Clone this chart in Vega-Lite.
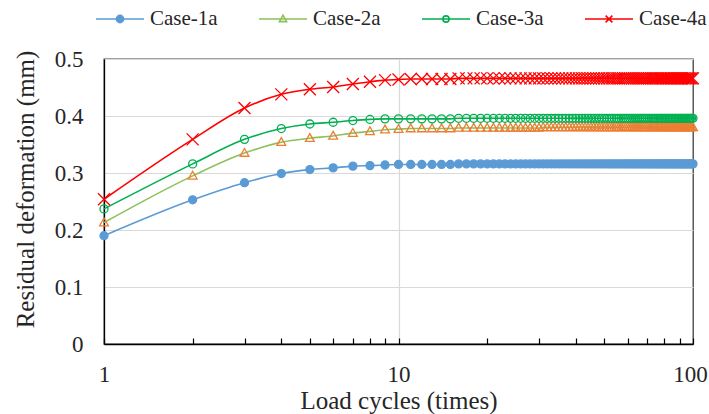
{
  "$schema": "https://vega.github.io/schema/vega-lite/v6.json",
  "width": 589,
  "height": 285,
  "autosize": {"type": "none"},
  "padding": {"left": 104, "top": 59, "right": 16, "bottom": 70},
  "background": "white",
  "config": {
    "font": "Liberation Serif",
    "view": {"stroke": "#404040", "strokeWidth": 1.3},
    "axis": {
      "labelFont": "Liberation Serif",
      "titleFont": "Liberation Serif",
      "labelFontSize": 23,
      "titleFontSize": 25,
      "labelColor": "#262626",
      "titleColor": "#262626",
      "titleFontWeight": "normal",
      "domainColor": "#000000",
      "domainWidth": 1.3,
      "gridColor": "#d9d9d9",
      "gridWidth": 1.2
    }
  },
  "data": {
    "values": [
      {"n": 1, "Case-1a": 0.190, "Case-2a": 0.213, "Case-3a": 0.237, "Case-4a": 0.254},
      {"n": 2, "Case-1a": 0.253, "Case-2a": 0.295, "Case-3a": 0.316, "Case-4a": 0.359},
      {"n": 3, "Case-1a": 0.283, "Case-2a": 0.335, "Case-3a": 0.359, "Case-4a": 0.414},
      {"n": 4, "Case-1a": 0.299, "Case-2a": 0.354, "Case-3a": 0.378, "Case-4a": 0.438},
      {"n": 5, "Case-1a": 0.306, "Case-2a": 0.361, "Case-3a": 0.386, "Case-4a": 0.447},
      {"n": 6, "Case-1a": 0.309, "Case-2a": 0.365, "Case-3a": 0.389, "Case-4a": 0.451},
      {"n": 7, "Case-1a": 0.312, "Case-2a": 0.370, "Case-3a": 0.392, "Case-4a": 0.456},
      {"n": 8, "Case-1a": 0.313, "Case-2a": 0.373, "Case-3a": 0.394, "Case-4a": 0.460},
      {"n": 9, "Case-1a": 0.314, "Case-2a": 0.376, "Case-3a": 0.395, "Case-4a": 0.463},
      {"n": 10, "Case-1a": 0.315, "Case-2a": 0.377, "Case-3a": 0.395, "Case-4a": 0.464},
      {"n": 11, "Case-1a": 0.315, "Case-2a": 0.378, "Case-3a": 0.395, "Case-4a": 0.465},
      {"n": 12, "Case-1a": 0.315, "Case-2a": 0.378, "Case-3a": 0.395, "Case-4a": 0.465},
      {"n": 13, "Case-1a": 0.315, "Case-2a": 0.378, "Case-3a": 0.395, "Case-4a": 0.465},
      {"n": 14, "Case-1a": 0.315, "Case-2a": 0.378, "Case-3a": 0.395, "Case-4a": 0.465},
      {"n": 15, "Case-1a": 0.315, "Case-2a": 0.378, "Case-3a": 0.395, "Case-4a": 0.465},
      {"n": 16, "Case-1a": 0.316, "Case-2a": 0.379, "Case-3a": 0.396, "Case-4a": 0.466},
      {"n": 17, "Case-1a": 0.316, "Case-2a": 0.379, "Case-3a": 0.396, "Case-4a": 0.466},
      {"n": 18, "Case-1a": 0.316, "Case-2a": 0.379, "Case-3a": 0.396, "Case-4a": 0.466},
      {"n": 19, "Case-1a": 0.316, "Case-2a": 0.379, "Case-3a": 0.396, "Case-4a": 0.466},
      {"n": 20, "Case-1a": 0.316, "Case-2a": 0.379, "Case-3a": 0.396, "Case-4a": 0.466},
      {"n": 21, "Case-1a": 0.316, "Case-2a": 0.379, "Case-3a": 0.396, "Case-4a": 0.466},
      {"n": 22, "Case-1a": 0.316, "Case-2a": 0.379, "Case-3a": 0.396, "Case-4a": 0.466},
      {"n": 23, "Case-1a": 0.316, "Case-2a": 0.379, "Case-3a": 0.396, "Case-4a": 0.466},
      {"n": 24, "Case-1a": 0.316, "Case-2a": 0.379, "Case-3a": 0.396, "Case-4a": 0.466},
      {"n": 25, "Case-1a": 0.316, "Case-2a": 0.379, "Case-3a": 0.396, "Case-4a": 0.466},
      {"n": 26, "Case-1a": 0.316, "Case-2a": 0.379, "Case-3a": 0.396, "Case-4a": 0.466},
      {"n": 27, "Case-1a": 0.316, "Case-2a": 0.379, "Case-3a": 0.396, "Case-4a": 0.466},
      {"n": 28, "Case-1a": 0.316, "Case-2a": 0.379, "Case-3a": 0.396, "Case-4a": 0.466},
      {"n": 29, "Case-1a": 0.316, "Case-2a": 0.379, "Case-3a": 0.396, "Case-4a": 0.466},
      {"n": 30, "Case-1a": 0.316, "Case-2a": 0.379, "Case-3a": 0.396, "Case-4a": 0.466},
      {"n": 31, "Case-1a": 0.316, "Case-2a": 0.380, "Case-3a": 0.396, "Case-4a": 0.466},
      {"n": 32, "Case-1a": 0.316, "Case-2a": 0.380, "Case-3a": 0.396, "Case-4a": 0.466},
      {"n": 33, "Case-1a": 0.316, "Case-2a": 0.380, "Case-3a": 0.396, "Case-4a": 0.466},
      {"n": 34, "Case-1a": 0.316, "Case-2a": 0.380, "Case-3a": 0.396, "Case-4a": 0.466},
      {"n": 35, "Case-1a": 0.316, "Case-2a": 0.380, "Case-3a": 0.396, "Case-4a": 0.466},
      {"n": 36, "Case-1a": 0.316, "Case-2a": 0.380, "Case-3a": 0.396, "Case-4a": 0.466},
      {"n": 37, "Case-1a": 0.316, "Case-2a": 0.380, "Case-3a": 0.396, "Case-4a": 0.466},
      {"n": 38, "Case-1a": 0.316, "Case-2a": 0.380, "Case-3a": 0.396, "Case-4a": 0.466},
      {"n": 39, "Case-1a": 0.316, "Case-2a": 0.380, "Case-3a": 0.396, "Case-4a": 0.466},
      {"n": 40, "Case-1a": 0.316, "Case-2a": 0.380, "Case-3a": 0.396, "Case-4a": 0.466},
      {"n": 41, "Case-1a": 0.316, "Case-2a": 0.380, "Case-3a": 0.396, "Case-4a": 0.466},
      {"n": 42, "Case-1a": 0.316, "Case-2a": 0.380, "Case-3a": 0.396, "Case-4a": 0.466},
      {"n": 43, "Case-1a": 0.316, "Case-2a": 0.380, "Case-3a": 0.396, "Case-4a": 0.466},
      {"n": 44, "Case-1a": 0.316, "Case-2a": 0.380, "Case-3a": 0.396, "Case-4a": 0.466},
      {"n": 45, "Case-1a": 0.316, "Case-2a": 0.380, "Case-3a": 0.396, "Case-4a": 0.466},
      {"n": 46, "Case-1a": 0.316, "Case-2a": 0.380, "Case-3a": 0.396, "Case-4a": 0.466},
      {"n": 47, "Case-1a": 0.316, "Case-2a": 0.380, "Case-3a": 0.396, "Case-4a": 0.466},
      {"n": 48, "Case-1a": 0.316, "Case-2a": 0.380, "Case-3a": 0.396, "Case-4a": 0.466},
      {"n": 49, "Case-1a": 0.316, "Case-2a": 0.380, "Case-3a": 0.396, "Case-4a": 0.466},
      {"n": 50, "Case-1a": 0.316, "Case-2a": 0.380, "Case-3a": 0.396, "Case-4a": 0.466},
      {"n": 51, "Case-1a": 0.316, "Case-2a": 0.380, "Case-3a": 0.396, "Case-4a": 0.466},
      {"n": 52, "Case-1a": 0.316, "Case-2a": 0.380, "Case-3a": 0.396, "Case-4a": 0.466},
      {"n": 53, "Case-1a": 0.316, "Case-2a": 0.380, "Case-3a": 0.396, "Case-4a": 0.466},
      {"n": 54, "Case-1a": 0.316, "Case-2a": 0.380, "Case-3a": 0.396, "Case-4a": 0.466},
      {"n": 55, "Case-1a": 0.316, "Case-2a": 0.380, "Case-3a": 0.396, "Case-4a": 0.466},
      {"n": 56, "Case-1a": 0.316, "Case-2a": 0.380, "Case-3a": 0.396, "Case-4a": 0.466},
      {"n": 57, "Case-1a": 0.316, "Case-2a": 0.380, "Case-3a": 0.396, "Case-4a": 0.466},
      {"n": 58, "Case-1a": 0.316, "Case-2a": 0.380, "Case-3a": 0.396, "Case-4a": 0.466},
      {"n": 59, "Case-1a": 0.316, "Case-2a": 0.380, "Case-3a": 0.396, "Case-4a": 0.466},
      {"n": 60, "Case-1a": 0.316, "Case-2a": 0.380, "Case-3a": 0.396, "Case-4a": 0.466},
      {"n": 61, "Case-1a": 0.316, "Case-2a": 0.380, "Case-3a": 0.396, "Case-4a": 0.466},
      {"n": 62, "Case-1a": 0.316, "Case-2a": 0.380, "Case-3a": 0.396, "Case-4a": 0.466},
      {"n": 63, "Case-1a": 0.316, "Case-2a": 0.380, "Case-3a": 0.396, "Case-4a": 0.466},
      {"n": 64, "Case-1a": 0.316, "Case-2a": 0.380, "Case-3a": 0.396, "Case-4a": 0.466},
      {"n": 65, "Case-1a": 0.316, "Case-2a": 0.380, "Case-3a": 0.396, "Case-4a": 0.466},
      {"n": 66, "Case-1a": 0.316, "Case-2a": 0.380, "Case-3a": 0.396, "Case-4a": 0.466},
      {"n": 67, "Case-1a": 0.316, "Case-2a": 0.380, "Case-3a": 0.396, "Case-4a": 0.466},
      {"n": 68, "Case-1a": 0.316, "Case-2a": 0.380, "Case-3a": 0.396, "Case-4a": 0.466},
      {"n": 69, "Case-1a": 0.316, "Case-2a": 0.380, "Case-3a": 0.396, "Case-4a": 0.466},
      {"n": 70, "Case-1a": 0.316, "Case-2a": 0.380, "Case-3a": 0.396, "Case-4a": 0.466},
      {"n": 71, "Case-1a": 0.316, "Case-2a": 0.380, "Case-3a": 0.396, "Case-4a": 0.466},
      {"n": 72, "Case-1a": 0.316, "Case-2a": 0.380, "Case-3a": 0.396, "Case-4a": 0.466},
      {"n": 73, "Case-1a": 0.316, "Case-2a": 0.380, "Case-3a": 0.396, "Case-4a": 0.466},
      {"n": 74, "Case-1a": 0.316, "Case-2a": 0.380, "Case-3a": 0.396, "Case-4a": 0.466},
      {"n": 75, "Case-1a": 0.316, "Case-2a": 0.380, "Case-3a": 0.396, "Case-4a": 0.466},
      {"n": 76, "Case-1a": 0.316, "Case-2a": 0.380, "Case-3a": 0.396, "Case-4a": 0.466},
      {"n": 77, "Case-1a": 0.316, "Case-2a": 0.380, "Case-3a": 0.396, "Case-4a": 0.466},
      {"n": 78, "Case-1a": 0.316, "Case-2a": 0.380, "Case-3a": 0.396, "Case-4a": 0.466},
      {"n": 79, "Case-1a": 0.316, "Case-2a": 0.380, "Case-3a": 0.396, "Case-4a": 0.466},
      {"n": 80, "Case-1a": 0.316, "Case-2a": 0.380, "Case-3a": 0.396, "Case-4a": 0.466},
      {"n": 81, "Case-1a": 0.316, "Case-2a": 0.380, "Case-3a": 0.396, "Case-4a": 0.466},
      {"n": 82, "Case-1a": 0.316, "Case-2a": 0.380, "Case-3a": 0.396, "Case-4a": 0.466},
      {"n": 83, "Case-1a": 0.316, "Case-2a": 0.380, "Case-3a": 0.396, "Case-4a": 0.466},
      {"n": 84, "Case-1a": 0.316, "Case-2a": 0.380, "Case-3a": 0.396, "Case-4a": 0.466},
      {"n": 85, "Case-1a": 0.316, "Case-2a": 0.380, "Case-3a": 0.396, "Case-4a": 0.466},
      {"n": 86, "Case-1a": 0.316, "Case-2a": 0.380, "Case-3a": 0.396, "Case-4a": 0.466},
      {"n": 87, "Case-1a": 0.316, "Case-2a": 0.380, "Case-3a": 0.396, "Case-4a": 0.466},
      {"n": 88, "Case-1a": 0.316, "Case-2a": 0.380, "Case-3a": 0.396, "Case-4a": 0.466},
      {"n": 89, "Case-1a": 0.316, "Case-2a": 0.380, "Case-3a": 0.396, "Case-4a": 0.466},
      {"n": 90, "Case-1a": 0.316, "Case-2a": 0.380, "Case-3a": 0.396, "Case-4a": 0.466},
      {"n": 91, "Case-1a": 0.316, "Case-2a": 0.380, "Case-3a": 0.396, "Case-4a": 0.466},
      {"n": 92, "Case-1a": 0.316, "Case-2a": 0.380, "Case-3a": 0.396, "Case-4a": 0.466},
      {"n": 93, "Case-1a": 0.316, "Case-2a": 0.380, "Case-3a": 0.396, "Case-4a": 0.466},
      {"n": 94, "Case-1a": 0.316, "Case-2a": 0.380, "Case-3a": 0.396, "Case-4a": 0.466},
      {"n": 95, "Case-1a": 0.316, "Case-2a": 0.380, "Case-3a": 0.396, "Case-4a": 0.466},
      {"n": 96, "Case-1a": 0.316, "Case-2a": 0.380, "Case-3a": 0.396, "Case-4a": 0.466},
      {"n": 97, "Case-1a": 0.316, "Case-2a": 0.380, "Case-3a": 0.396, "Case-4a": 0.466},
      {"n": 98, "Case-1a": 0.316, "Case-2a": 0.380, "Case-3a": 0.396, "Case-4a": 0.466},
      {"n": 99, "Case-1a": 0.316, "Case-2a": 0.380, "Case-3a": 0.396, "Case-4a": 0.466},
      {"n": 100, "Case-1a": 0.316, "Case-2a": 0.380, "Case-3a": 0.396, "Case-4a": 0.466}
    ]
  },
  "transform": [
    {"fold": ["Case-1a", "Case-2a", "Case-3a", "Case-4a"], "as": ["s", "v"]}
  ],
  "encoding": {
    "x": {
      "field": "n",
      "type": "quantitative",
      "scale": {"type": "log", "domain": [1, 100], "nice": false},
      "axis": {
        "title": "Load cycles (times)",
        "values": [1, 2, 3, 4, 5, 6, 7, 8, 9, 10, 20, 30, 40, 50, 60, 70, 80, 90, 100],
        "labelExpr": "datum.value == 1 || datum.value == 10 || datum.value == 100 ? format(datum.value, 'd') : ''",
        "labelOffset": {"condition": {"test": "datum.value == 100", "value": -3}, "value": 0},
        "tickSize": -6,
        "tickColor": "#000000",
        "tickWidth": 1.2,
        "labelPadding": 25,
        "titlePadding": 2,
        "labelFlush": false,
        "labelOverlap": false,
        "gridOpacity": {"condition": {"test": "datum.value == 10", "value": 1}, "value": 0}
      }
    },
    "y": {
      "field": "v",
      "type": "quantitative",
      "scale": {"domain": [0, 0.5], "nice": false},
      "axis": {
        "title": "Residual deformation (mm)",
        "values": [0, 0.1, 0.2, 0.3, 0.4, 0.5],
        "format": ".1~f",
        "ticks": false,
        "labelPadding": 21,
        "titlePadding": 16,
        "titleY": 130
      }
    }
  },
  "layer": [
    {
      "mark": {"type": "line", "interpolate": "monotone", "strokeWidth": 1.6},
      "encoding": {
        "color": {
          "field": "s",
          "type": "nominal",
          "scale": {
            "domain": ["Case-1a", "Case-2a", "Case-3a", "Case-4a"],
            "range": ["#5B9BD5", "#8DC15A", "#00B050", "#FF0000"]
          },
          "legend": {
            "title": null,
            "orient": "none",
            "legendX": -9,
            "legendY": -65,
            "direction": "horizontal",
            "padding": 0,
            "symbolSize": 2304,
            "symbolStrokeWidth": 1.6,
            "labelFont": "Liberation Serif",
            "labelFontSize": 21,
            "labelColor": "#262626",
            "labelOffset": 5,
            "columnPadding": 37,
            "encode": {
              "symbols": {
                "update": {
                  "shape": {"signal": "datum.value === 'Case-1a' ? 'M-1,0L1,0M0.15,0A0.15,0.15,0,1,1,-0.15,0A0.15,0.15,0,1,1,0.15,0Z' : datum.value === 'Case-2a' ? 'M-1,0L1,0M0,-0.16L0.15,0.11L-0.15,0.11Z' : datum.value === 'Case-3a' ? 'M-1,0L1,0M0.13,0A0.13,0.13,0,1,1,-0.13,0A0.13,0.13,0,1,1,0.13,0Z' : 'M-1,0L1,0M-0.14,-0.14L0.14,0.14M-0.14,0.14L0.14,-0.14'"},
                  "fill": {"signal": "datum.value === 'Case-1a' ? '#5B9BD5' : 'white'"},
                  "fillOpacity": {"value": 1},
                  "strokeWidth": {"value": 1.6}
                }
              }
            }
          }
        }
      }
    },
    {
      "mark": {"type": "point", "filled": true, "opacity": 1, "strokeWidth": 1.3, "size": 64},
      "encoding": {
        "shape": {
          "field": "s",
          "type": "nominal",
          "scale": {
            "range": ["circle", "M0,-1.15L1.1,0.8L-1.1,0.8Z", "circle", "M-1.5,-1.5L1.5,1.5M-1.5,1.5L1.5,-1.5"]
          },
          "legend": null
        },
        "fill": {
          "field": "s",
          "type": "nominal",
          "scale": {
            "range": ["#5B9BD5", "transparent", "transparent", "transparent"]
          },
          "legend": null
        },
        "stroke": {
          "field": "s",
          "type": "nominal",
          "scale": {
            "range": ["#5B9BD5", "#ED7D31", "#00B050", "#FF0000"]
          },
          "legend": null
        }
      }
    }
  ]
}
